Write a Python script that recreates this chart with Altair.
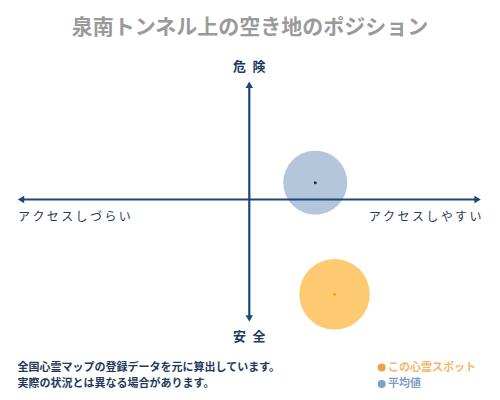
import altair as alt
import pandas as pd

# ---- data ----
series = ["平均値", "この心霊スポット"]
access = [0.284, 0.367]      # x: アクセスしづらい(-1) .. アクセスしやすい(+1)
danger = [0.14, -0.79]       # y: 安全(-1) .. 危険(+1)
bubble_size = [4100, 4980]
fill_colors = ["#b3c6dc", "#fdca72"]
dot_colors = ["#1d2f48", "#f5a21e"]

h_axis_x = [-1.0, 1.0]
v_axis_y = [-1.025, 0.99]

title_text = "泉南トンネル上の空き地のポジション"
top_label = "危\u2002険"
bottom_label = "安\u2002全"
left_label = "\u2009".join("アクセスしづらい")
right_label = "\u2009".join("アクセスしやすい")
note1 = "全国心霊マップの登録データを元に算出しています。"
note2 = "実際の状況とは異なる場合があります。"
legend_labels = ["この心霊スポット", "平均値"]
legend_dot_colors = ["#f0a04b", "#7ba4c9"]
legend_text_colors = ["#f2b66a", "#7f9fc0"]

FONT = "Noto Sans CJK JP"
NAVY = "#1b4876"
TEXT_NAVY = "#1f3a5c"

xs = alt.Scale(domain=[-1, 1], range=[9, 473.6])
ys = alt.Scale(domain=[-1, 1], range=[311.5, 71.5])

bubbles = pd.DataFrame({"series": series, "x": access, "y": danger,
                        "size": bubble_size, "fill": fill_colors, "dot": dot_colors})

X = lambda f: alt.X(f, type="quantitative", scale=xs, axis=None)
Y = lambda f: alt.Y(f, type="quantitative", scale=ys, axis=None)

circles = alt.Chart(bubbles).mark_circle(opacity=1).encode(
    x=X("x"), y=Y("y"),
    size=alt.Size("size:Q", scale=None, legend=None),
    color=alt.Color("fill:N", scale=None, legend=None),
)
centers = alt.Chart(bubbles).mark_circle(size=9, opacity=1).encode(
    x=X("x"), y=Y("y"),
    color=alt.Color("dot:N", scale=None, legend=None),
)

hdf = pd.DataFrame({"x": [h_axis_x[0]], "x2": [h_axis_x[1]], "y": [0.0]})
vdf = pd.DataFrame({"y": [v_axis_y[0]], "y2": [v_axis_y[1]], "x": [0.0]})

h_rule = alt.Chart(hdf).mark_rule(color=NAVY, strokeWidth=2.2, xOffset=4, x2Offset=-4).encode(
    x=X("x"), x2="x2", y=Y("y"))
v_rule = alt.Chart(vdf).mark_rule(color=NAVY, strokeWidth=2.2, yOffset=-4, y2Offset=4).encode(
    y=Y("y"), y2="y2", x=X("x"))

left_head = alt.Chart(pd.DataFrame({"x": [h_axis_x[0]], "y": [0.0]})).mark_point(
    shape="triangle-left", filled=True, color=NAVY, size=55, opacity=1, xOffset=4).encode(x=X("x"), y=Y("y"))
right_head = alt.Chart(pd.DataFrame({"x": [h_axis_x[1]], "y": [0.0]})).mark_point(
    shape="triangle-right", filled=True, color=NAVY, size=55, opacity=1, xOffset=-4).encode(x=X("x"), y=Y("y"))
top_head = alt.Chart(pd.DataFrame({"x": [0.0], "y": [v_axis_y[1]]})).mark_point(
    shape="triangle-up", filled=True, color=NAVY, size=55, opacity=1, yOffset=4).encode(x=X("x"), y=Y("y"))
bottom_head = alt.Chart(pd.DataFrame({"x": [0.0], "y": [v_axis_y[0]]})).mark_point(
    shape="triangle-down", filled=True, color=NAVY, size=55, opacity=1, yOffset=-4).encode(x=X("x"), y=Y("y"))

base = alt.Chart(pd.DataFrame({"a": [0]}))

def txt(text, x, y, size, color, align="center", weight="bold"):
    return base.mark_text(text=text, font=FONT, fontSize=size, color=color, align=align,
                          baseline="middle", fontWeight=weight).encode(x=alt.value(x), y=alt.value(y))

title = txt(title_text, 242, 20, 21, "#9a9a9a")
top_t = txt(top_label, 241.3, 59, 13, TEXT_NAVY)
bot_t = txt(bottom_label, 241.3, 329, 13, TEXT_NAVY)
left_t = txt(left_label, 10, 208.5, 12, TEXT_NAVY, align="left", weight="normal")
right_t = txt(right_label, 473.5, 208.5, 12, TEXT_NAVY, align="right", weight="normal")
n1 = txt(note1, 9.5, 359.5, 11, TEXT_NAVY, align="left")
n2 = txt(note2, 9.5, 376, 11, TEXT_NAVY, align="left")

leg_rows = []
for i, (lab, dc, tc) in enumerate(zip(legend_labels, legend_dot_colors, legend_text_colors)):
    yy = 359.5 + i * 16.5
    leg_rows.append(base.mark_circle(size=64, color=dc, opacity=1).encode(x=alt.value(373.7), y=alt.value(yy)))
    leg_rows.append(txt(lab, 380, yy, 11, tc, align="left"))

chart = alt.layer(
    circles, h_rule, v_rule, left_head, right_head, top_head, bottom_head, centers,
    title, top_t, bot_t, left_t, right_t, n1, n2, *leg_rows
).properties(
    width=484, height=384, autosize=alt.AutoSizeParams(type="none"), padding=0,
    background="white"
).configure_view(stroke=None)

chart.save("out.html", embed_options={"renderer": "svg", "actions": False})
